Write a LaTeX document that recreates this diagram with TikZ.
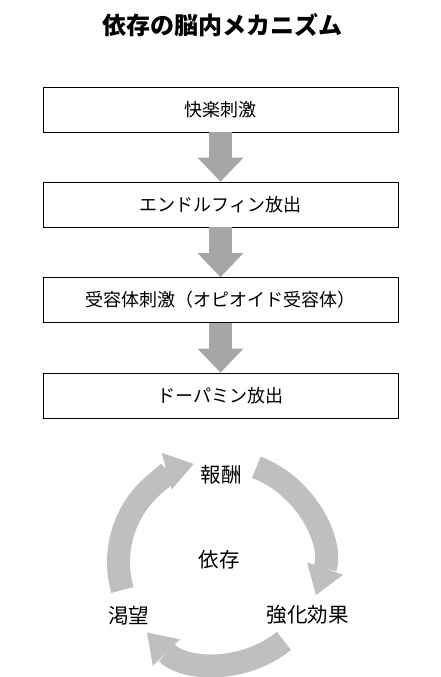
\documentclass[tikz,border=0pt]{standalone}
\usepackage{fontspec}
\setmainfont{Noto Sans CJK JP}
\usetikzlibrary{arrows.meta}

\definecolor{blockgray}{HTML}{A6A6A6}
\definecolor{cyclegray}{HTML}{BFBFBF}

\begin{document}
\begin{tikzpicture}[
			x=1pt, y=1pt,
			every node/.style = {font=\fontsize{18}{22}\selectfont},
			stepbox/.style    = {draw, fill=white, line width=0.8pt,
			                     minimum width=355pt, minimum height=45pt, inner sep=0pt},
			downarrow/.style  = {color=blockgray, line width=23pt,
			                     -{Triangle[width=46pt,length=24pt,line width=0pt]}},
			cyclearc/.style   = {color=cyclegray, line width=23pt,
			                     -{Triangle[width=38pt,length=28pt,line width=0pt]}},
			cyclelabel/.style = {font=\fontsize{20.5}{24}\selectfont}
			]
			\useasboundingbox (0,0) rectangle (441,677);
			
			%--- title ---
			\node (title) at (222,652) {\fontsize{24}{28}\selectfont\bfseries 依存の脳内メカニズム};
			
			%--- steps ---
			\node[stepbox] (pleasure)  at (220.5,567.5) {快楽刺激};
			\node[stepbox] (endorphin) at (220.5,472.5) {エンドルフィン放出};
			\node[stepbox] (receptor)  at (220.5,377)   {受容体刺激（オピオイド受容体）};
			\node[stepbox] (dopamine)  at (220.5,281.5) {ドーパミン放出};
			
			%--- block arrows ---
			\draw[downarrow] (pleasure.south)  -- (endorphin.north);
			\draw[downarrow] (endorphin.south) -- (receptor.north);
			\draw[downarrow] (receptor.south)  -- (dopamine.north);
			
			%--- cycle ---
			\coordinate (hub) at (220,115);
			\node[cyclelabel] (dependence) at (219,117)    {依存};
			\node[cyclelabel] (reward)     at (221,202.5)  {報酬};
			\node[cyclelabel] (craving)    at (128.5,61.5) {渇望};
			\node[cyclelabel] (reinforce)  at (307.5,62.5) {強化効果};
			
			\draw[cyclearc] ([shift={(196:101.5pt)}]hub) arc[start angle=196, end angle=105, radius=101.5pt];
			\draw[cyclearc] ([shift={(69:101.5pt)}]hub)  arc[start angle=69,  end angle=-19, radius=101.5pt];
			\draw[cyclearc] ([shift={(-51:101.5pt)}]hub) arc[start angle=-51, end angle=-136, radius=101.5pt];
		\end{tikzpicture}
\end{document}
